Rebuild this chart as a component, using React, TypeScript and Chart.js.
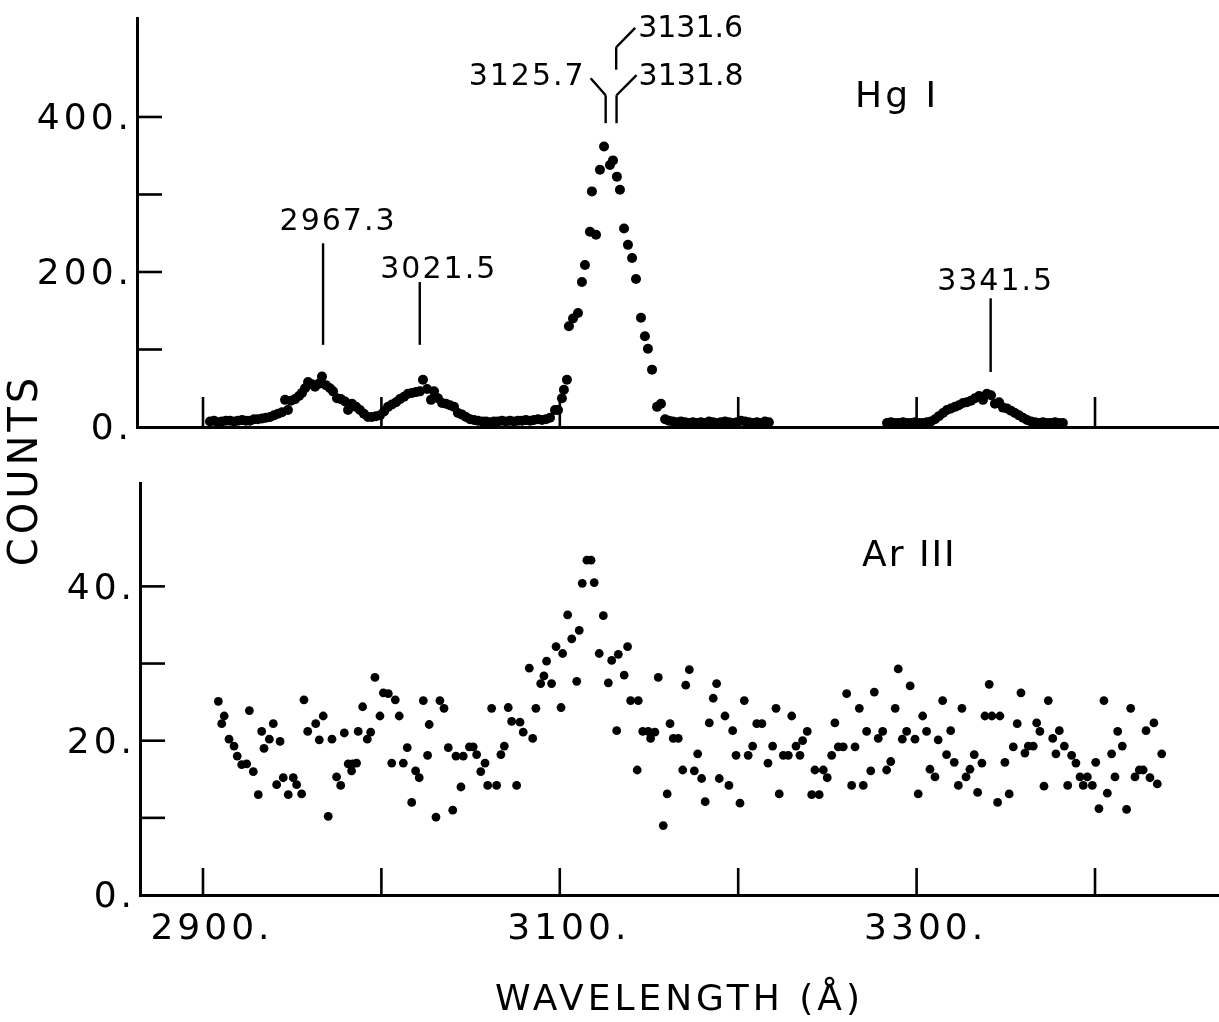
import React, { useEffect, useRef } from 'react';
import { Chart, registerables } from 'chart.js';

Chart.register(...registerables);

const FONT = '"DejaVu Sans", "Liberation Sans", sans-serif';

// ---------- Hg I spectrum (top panel) ----------
const hgWavelength = [
  2903.9, 2906.2, 2908.4, 2910.6, 2912.9, 2915.1, 2917.4, 2919.6, 2921.9, 2924.1,
  2926.3, 2928.6, 2930.8, 2933.1, 2935.3, 2937.6, 2939.8, 2942.0, 2944.3, 2946.0,
  2947.6, 2949.3, 2951.6, 2953.8, 2955.5, 2957.2, 2958.9, 2961.1, 2962.8, 2965.0,
  2966.7, 2968.9, 2971.2, 2972.9, 2975.1, 2977.3, 2979.6, 2981.3, 2983.5, 2985.8,
  2988.0, 2990.2, 2992.5, 2994.7, 2997.0, 2999.2, 3001.5, 3003.7, 3005.9, 3008.2,
  3010.4, 3012.7, 3014.9, 3017.1, 3019.4, 3021.6, 3023.3, 3025.6, 3027.8, 3029.5,
  3031.7, 3034.0, 3036.2, 3038.4, 3040.7, 3042.9, 3045.2, 3047.4, 3049.7, 3051.9,
  3054.1, 3056.4, 3058.6, 3060.9, 3063.1, 3065.3, 3067.6, 3069.8, 3072.1, 3074.3,
  3076.6, 3078.8, 3081.0, 3083.3, 3085.5, 3087.8, 3090.0, 3092.3, 3094.5, 3097.3,
  3099.0, 3101.2, 3102.3, 3104.0, 3105.1, 3107.4, 3110.2, 3112.4, 3114.1, 3116.9,
  3118.0, 3120.3, 3122.5, 3124.8, 3128.1, 3129.8, 3132.0, 3133.7, 3136.0, 3138.2,
  3140.5, 3142.7, 3145.5, 3147.7, 3149.4, 3151.7, 3154.5, 3156.7, 3159.0, 3161.2,
  3163.4, 3165.7, 3167.9, 3170.2, 3172.4, 3174.6, 3176.9, 3179.1, 3181.4, 3183.6,
  3185.9, 3188.1, 3190.3, 3192.6, 3194.8, 3197.1, 3199.3, 3201.5, 3203.8, 3206.0,
  3208.3, 3210.5, 3212.8, 3215.0, 3217.2,
  3283.4, 3285.6, 3287.9, 3290.1, 3292.4, 3294.6, 3296.8, 3299.1, 3301.3, 3303.6,
  3305.8, 3308.0, 3310.3, 3312.5, 3314.8, 3317.0, 3319.3, 3321.5, 3323.7, 3326.0,
  3328.2, 3330.5, 3332.7, 3335.0, 3337.2, 3339.4, 3341.7, 3343.9, 3346.2, 3348.4,
  3350.6, 3352.9, 3355.1, 3357.4, 3359.6, 3361.9, 3364.1, 3366.3, 3368.6, 3370.8,
  3373.1, 3375.3, 3377.6, 3379.8, 3382.0,
];
const hgCounts = [
  7, 8, 6, 7, 8, 8, 7, 8, 9, 8,
  8, 10, 10, 11, 12, 13, 15, 17, 19, 35,
  22, 34, 36, 40, 44, 50, 58, 55, 52, 56,
  65, 54, 50, 46, 37, 36, 33, 22, 30, 26,
  22, 17, 13, 13, 14, 15, 20, 26, 29, 32,
  36, 39, 43, 44, 45, 46, 61, 49, 35, 46,
  37, 31, 30, 28, 26, 18, 16, 13, 10, 9,
  8, 7, 7, 6, 7, 7, 8, 7, 8, 7,
  8, 8, 9, 8, 9, 10, 9, 10, 12, 22,
  22, 37, 48, 61, 130, 140, 147, 187, 209, 252,
  304, 248, 332, 362, 338, 344, 323, 306, 256, 235,
  218, 191, 141, 117, 101, 74, 26, 30, 10, 8,
  7, 6, 7, 6, 5, 6, 5, 6, 5, 7,
  6, 5, 6, 7, 6, 5, 6, 8, 7, 6,
  5, 6, 5, 7, 6,
  5, 6, 5, 5, 6, 5, 5, 6, 5, 5,
  6, 7, 10, 14, 18, 22, 24, 26, 28, 31,
  32, 34, 37, 40, 35, 43, 41, 30, 32, 25,
  24, 21, 18, 15, 12, 9, 7, 6, 5, 6,
  5, 5, 6, 5, 5,
];

// ---------- Ar III spectrum (bottom panel) ----------
const arWavelength = [
  2908.6, 2910.5, 2911.9, 2914.6, 2917.4, 2919.2, 2921.7, 2924.5, 2926.0, 2928.2,
  2931.0, 2932.9, 2934.2, 2937.2, 2939.4, 2941.3, 2943.2, 2945.0, 2947.8, 2950.6,
  2952.5, 2955.3, 2956.6, 2958.7, 2963.2, 2965.2, 2967.4, 2970.2, 2972.3, 2974.9,
  2977.2, 2979.2, 2981.4, 2983.3, 2983.9, 2986.1, 2987.0, 2989.5, 2992.1, 2994.0,
  2996.4, 2999.2, 3001.1, 3003.9, 3005.8, 3007.8, 3010.0, 3012.3, 3014.5, 3017.0,
  3019.2, 3021.2, 3023.5, 3025.9, 3026.8, 3030.6, 3032.8, 3035.1, 3037.5, 3040.0,
  3041.8, 3044.6, 3045.9, 3049.3, 3051.5, 3053.4, 3055.7, 3058.1, 3059.6, 3061.8,
  3064.6, 3067.0, 3068.9, 3071.1, 3073.0, 3075.8, 3077.7, 3079.5, 3082.9, 3084.8,
  3086.6, 3089.3, 3091.1, 3092.6, 3095.4, 3097.9, 3100.7, 3101.6, 3104.4, 3106.7,
  3109.5, 3110.9, 3112.6, 3115.2, 3117.5, 3119.3, 3122.1, 3124.4, 3127.2, 3129.1,
  3131.9, 3132.8, 3136.1, 3138.0, 3139.7, 3143.4, 3144.0, 3146.5, 3149.6, 3150.9,
  3153.3, 3155.2, 3158.0, 3160.2, 3161.8, 3163.6, 3166.4, 3168.9, 3170.6, 3172.6,
  3175.4, 3177.3, 3179.5, 3181.5, 3183.8, 3186.0, 3187.9, 3189.4, 3192.6, 3194.8,
  3196.9, 3198.8, 3201.0, 3203.4, 3205.6, 3208.1, 3210.4, 3213.3, 3216.7, 3219.3,
  3221.2, 3223.0, 3225.3, 3228.1, 3230.0, 3232.4, 3234.6, 3236.1, 3238.7, 3241.2,
  3243.0, 3245.4, 3247.7, 3249.9, 3252.4, 3254.2, 3256.1, 3258.9, 3260.8, 3263.6,
  3265.5, 3267.9, 3270.1, 3272.0, 3274.3, 3276.3, 3278.5, 3281.0, 3283.2, 3285.5,
  3288.0, 3289.7, 3292.0, 3294.4, 3296.4, 3299.1, 3300.9, 3303.4, 3305.6, 3307.5,
  3310.3, 3312.1, 3314.6, 3316.8, 3319.1, 3321.1, 3323.4, 3325.4, 3327.7, 3329.9,
  3332.3, 3334.2, 3336.6, 3338.3, 3340.7, 3342.2, 3345.4, 3346.7, 3349.5, 3351.9,
  3354.2, 3356.4, 3358.5, 3360.7, 3362.6, 3365.4, 3367.3, 3369.1, 3371.4, 3373.8,
  3376.3, 3378.1, 3380.0, 3382.8, 3384.7, 3386.9, 3389.3, 3391.6, 3393.4, 3395.7,
  3398.5, 3400.4, 3402.2, 3405.0, 3406.9, 3409.3, 3411.2, 3412.7, 3415.3, 3417.7,
  3420.0, 3422.4, 3424.8, 3427.0, 3428.6, 3430.8, 3433.0, 3434.9, 3437.4,
];
const arCounts = [
  25.1, 22.2, 23.2, 20.2, 19.3, 18.0, 16.9, 17.0, 23.9, 16.0,
  13.0, 21.2, 19.0, 20.2, 22.2, 14.3, 19.9, 15.2, 13.0, 15.2,
  14.3, 13.1, 25.3, 21.2, 22.2, 20.1, 23.2, 10.2, 20.2, 15.3,
  14.2, 21.0, 17.0, 16.1, 17.0, 17.1, 21.2, 24.4, 20.2, 21.1,
  28.2, 23.2, 26.2, 26.1, 17.1, 25.3, 23.2, 17.1, 19.1, 12.0,
  16.1, 15.2, 25.2, 18.1, 22.1, 10.1, 25.2, 24.2, 19.1, 11.0,
  18.0, 14.0, 18.0, 19.2, 19.2, 18.2, 16.0, 17.1, 14.2, 24.2,
  14.2, 18.2, 19.3, 24.3, 22.5, 14.2, 22.4, 21.1, 29.4, 20.3,
  24.2, 27.4, 28.4, 30.3, 27.4, 32.2, 24.3, 31.3, 36.3, 33.2,
  27.7, 34.3, 40.4, 43.4, 43.4, 40.5, 31.3, 36.2, 27.5, 30.4,
  21.3, 31.2, 28.5, 32.2, 25.2, 16.2, 25.2, 21.2, 21.2, 20.3,
  21.1, 28.2, 9.0, 13.1, 22.2, 20.3, 20.3, 16.2, 27.2, 29.2,
  16.1, 18.3, 15.1, 12.1, 22.3, 25.5, 27.4, 15.1, 23.2, 14.2,
  21.3, 18.1, 11.9, 25.2, 18.1, 19.3, 22.2, 22.2, 17.1, 19.3,
  24.2, 13.1, 18.1, 18.1, 23.2, 19.3, 18.1, 20.0, 21.2, 13.0,
  16.2, 13.0, 16.2, 15.2, 18.1, 22.3, 19.2, 19.2, 26.1, 14.2,
  19.2, 24.2, 14.2, 21.2, 16.1, 26.3, 20.3, 21.2, 16.2, 17.3,
  24.2, 29.3, 20.2, 21.2, 27.1, 20.2, 13.1, 23.2, 21.2, 16.3,
  15.3, 20.1, 25.2, 18.2, 21.3, 17.2, 14.2, 24.2, 15.3, 16.3,
  18.2, 13.3, 17.1, 23.2, 27.3, 23.2, 12.0, 23.2, 17.2, 13.1,
  19.2, 22.2, 26.2, 18.4, 19.3, 19.3, 22.3, 21.2, 14.1, 25.2,
  20.3, 18.3, 21.3, 19.3, 14.2, 18.1, 17.1, 15.3, 14.2, 15.3,
  14.2, 17.2, 11.2, 25.2, 13.2, 18.3, 15.3, 21.2, 19.3, 11.1,
  24.2, 15.3, 16.2, 16.2, 21.3, 15.2, 22.3, 14.4, 18.3,
];

// ---------- ticks and labels ----------
const xTickValues = [2900, 3000, 3100, 3200, 3300, 3400];
const xTickLabels = ['2900.', '', '3100.', '', '3300.', ''];
const hgTickValues = [0, 100, 200, 300, 400];
const hgTickLabels = ['0.', '', '200.', '', '400.'];
const arTickValues = [0, 10, 20, 30, 40];
const arTickLabels = ['0.', '', '20.', '', '40.'];

// identified lines
const hgLineLabels = ['2967.3', '3021.5', '3341.5'];
const hgLineWavelengths = [2967.3, 3021.5, 3341.5];
const hgBlendLabels = ['3125.7', '3131.8', '3131.6'];
const hgBlendWavelengths = [3125.7, 3131.8, 3131.6];

// layout (not data)
const W = 1219;
const H = 1022;
const TOP = { left: 137, top: 18, bottom: 427, xMin: 2863.0, xMax: 3469.5, yMax: 527.7 };
const BOT = { left: 140, top: 483, bottom: 895, xMin: 2864.7, xMax: 3469.5, yMax: 53.4 };
const singleLayout = [
  { from: 106, to: 237, text: 254, dx: 15 },
  { from: 106, to: 187, text: 192, dx: 19 },
  { from: 71, to: 166, text: 177, dx: 5 },
];

function line(ctx: CanvasRenderingContext2D, x1: number, y1: number, x2: number, y2: number) {
  ctx.beginPath();
  ctx.moveTo(x1, y1);
  ctx.lineTo(x2, y2);
  ctx.stroke();
}

function framePlugin(yVals: number[], xLen: number, yLen: number) {
  return {
    id: 'frameTicks',
    beforeDraw(chart: any) {
      chart.ctx.letterSpacing = '4px';
    },
    afterDraw(chart: any) {
      const { ctx, chartArea, scales } = chart;
      ctx.save();
      ctx.strokeStyle = '#000';
      ctx.lineWidth = 2.6;
      xTickValues.forEach((v) => {
        const px = scales.x.getPixelForValue(v);
        line(ctx, px, chartArea.bottom, px, chartArea.bottom - xLen);
      });
      yVals.forEach((v) => {
        if (v === 0) return;
        const py = scales.y.getPixelForValue(v);
        line(ctx, chartArea.left, py, chartArea.left + yLen, py);
      });
      ctx.restore();
    },
  };
}

const hgAnnotations = {
  id: 'hgAnnotations',
  afterDraw(chart: any) {
    const { ctx } = chart;
    const x = chart.scales.x;
    const y = chart.scales.y;
    const Y = (v: number) => y.getPixelForValue(v);
    ctx.save();
    ctx.fillStyle = '#000';
    ctx.strokeStyle = '#000';
    ctx.lineWidth = 2.4;
    ctx.font = `30px ${FONT}`;
    ctx.letterSpacing = '2px';
    ctx.textBaseline = 'alphabetic';

    hgLineWavelengths.forEach((wl, i) => {
      const L = singleLayout[i];
      const px = x.getPixelForValue(wl);
      line(ctx, px, Y(L.from), px, Y(L.to));
      ctx.textAlign = 'center';
      ctx.fillText(hgLineLabels[i], px + L.dx, Y(L.text));
    });

    // blended group 3125.7 / 3131.8 / 3131.6
    const xa = x.getPixelForValue(hgBlendWavelengths[0]);
    const xb = x.getPixelForValue(hgBlendWavelengths[1]);
    const xc = x.getPixelForValue(hgBlendWavelengths[2]);
    line(ctx, xa, Y(392), xa, Y(428));
    line(ctx, xb, Y(392), xb, Y(428));
    line(ctx, xa, Y(428), xa - 15, Y(450));
    line(ctx, xb, Y(428), xb + 20, Y(454));
    line(ctx, xc, Y(461), xc, Y(490));
    line(ctx, xc, Y(490), xc + 19, Y(515));
    ctx.textAlign = 'right';
    ctx.fillText(hgBlendLabels[0], xa - 20, Y(441));
    ctx.textAlign = 'left';
    ctx.letterSpacing = '0px';
    ctx.fillText(hgBlendLabels[1], xb + 22, Y(441));
    ctx.fillText(hgBlendLabels[2], xc + 22, Y(503));

    // element label
    ctx.font = `36px ${FONT}`;
    ctx.letterSpacing = '3px';
    ctx.textAlign = 'left';
    ctx.fillText('Hg I', x.getPixelForValue(3265.5), Y(413));

    // shared vertical title
    ctx.translate(27, 470);
    ctx.rotate(-Math.PI / 2);
    ctx.font = `40px ${FONT}`;
    ctx.letterSpacing = '4px';
    ctx.textAlign = 'center';
    ctx.textBaseline = 'middle';
    ctx.fillText('COUNTS', 0, 0);
    ctx.restore();
  },
};

const arAnnotations = {
  id: 'arAnnotations',
  afterDraw(chart: any) {
    const { ctx } = chart;
    ctx.save();
    ctx.fillStyle = '#000';
    ctx.font = `36px ${FONT}`;
    ctx.letterSpacing = '2px';
    ctx.textAlign = 'left';
    ctx.textBaseline = 'alphabetic';
    ctx.fillText('Ar III', chart.scales.x.getPixelForValue(3269.4), chart.scales.y.getPixelForValue(42.6));
    ctx.restore();
  },
};

function axisBase() {
  return {
    border: { display: true, color: '#000', width: 3 },
    grid: { display: true, drawOnChartArea: false, drawTicks: false, color: 'rgba(0,0,0,0)' },
  };
}

function makeConfig(
  xs: number[],
  ys: number[],
  L: any,
  yTicks: number[],
  yLabels: string[],
  showXLabels: boolean,
  radius: number,
  plugins: any[]
): any {
  return {
    type: 'scatter',
    data: {
      datasets: [
        {
          data: xs.map((v, i) => ({ x: v, y: ys[i] })),
          pointRadius: radius,
          pointBackgroundColor: '#000',
          pointBorderWidth: 0,
          pointHoverRadius: radius,
          showLine: false,
          clip: false,
        },
      ],
    },
    options: {
      responsive: false,
      animation: false,
      devicePixelRatio: 1,
      events: [],
      layout: { autoPadding: false, padding: { top: L.top, left: 0, right: 0, bottom: 0 } },
      plugins: { legend: { display: false }, tooltip: { enabled: false }, title: { display: false } },
      scales: {
        x: {
          type: 'linear',
          min: L.xMin,
          max: L.xMax,
          ...axisBase(),
          afterBuildTicks: (s: any) => {
            s.ticks = xTickValues.map((v) => ({ value: v }));
          },
          afterFit: (s: any) => {
            s.height = H - L.bottom;
            s.paddingLeft = 0;
            s.paddingRight = 0;
          },
          ticks: {
            display: showXLabels,
            autoSkip: false,
            maxRotation: 0,
            minRotation: 0,
            padding: 13,
            labelOffset: 9,
            color: '#000',
            font: { family: FONT, size: 36 },
            callback: (_v: any, i: number) => xTickLabels[i],
          },
          title: {
            display: showXLabels,
            text: 'WAVELENGTH (Å)',
            color: '#000',
            font: { family: FONT, size: 36 },
            padding: { top: 0, bottom: 0 },
          },
        },
        y: {
          type: 'linear',
          min: 0,
          max: L.yMax,
          ...axisBase(),
          afterBuildTicks: (s: any) => {
            s.ticks = yTicks.map((v) => ({ value: v }));
          },
          afterFit: (s: any) => {
            s.width = L.left;
            s.paddingTop = 0;
            s.paddingBottom = 0;
          },
          ticks: {
            autoSkip: false,
            padding: 4,
            labelOffset: 3,
            color: '#000',
            font: { family: FONT, size: 36, lineHeight: 1 },
            callback: (_v: any, i: number) => yLabels[i],
          },
        },
      },
    },
    plugins,
  };
}

export default function App() {
  const topRef = useRef<HTMLCanvasElement>(null);
  const botRef = useRef<HTMLCanvasElement>(null);

  useEffect(() => {
    document.body.style.margin = '0';
    const top = new Chart(
      topRef.current as HTMLCanvasElement,
      makeConfig(hgWavelength, hgCounts, TOP, hgTickValues, hgTickLabels, false, 5, [
        framePlugin(hgTickValues, 30, 25),
        hgAnnotations,
      ])
    );
    const bot = new Chart(
      botRef.current as HTMLCanvasElement,
      makeConfig(arWavelength, arCounts, BOT, arTickValues, arTickLabels, true, 4.4, [
        framePlugin(arTickValues, 27, 25),
        arAnnotations,
      ])
    );
    return () => {
      top.destroy();
      bot.destroy();
    };
  }, []);

  return (
    <div style={{ position: 'relative', width: W, height: H, background: '#fff', overflow: 'hidden' }}>
      <canvas ref={topRef} width={W} height={H} style={{ position: 'absolute', left: 0, top: 0 }} />
      <canvas ref={botRef} width={W} height={H} style={{ position: 'absolute', left: 0, top: 0 }} />
    </div>
  );
}
